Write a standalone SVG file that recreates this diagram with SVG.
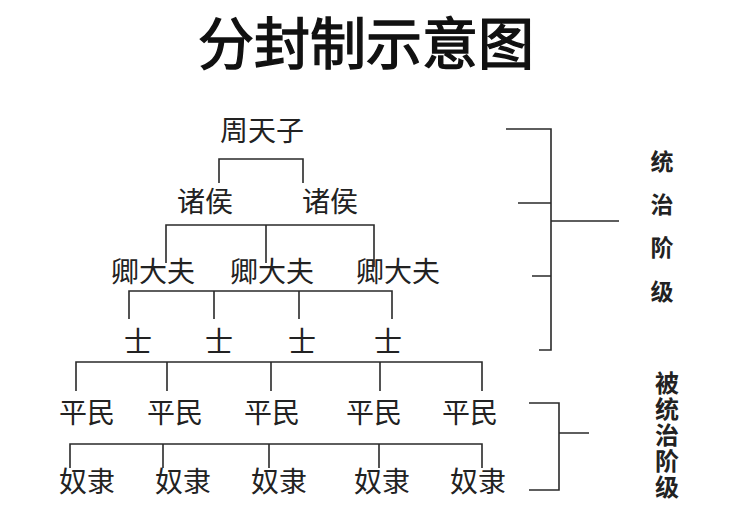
<svg xmlns="http://www.w3.org/2000/svg" width="751" height="518" viewBox="0 0 751 518">
<style>
.t{font-family:"Noto Sans CJK SC","Noto Sans",sans-serif;font-size:28px;fill:#222;text-anchor:middle}
.title{font-family:"Noto Sans CJK SC","Noto Sans",sans-serif;font-size:56px;font-weight:normal;fill:#111;stroke:#111;stroke-width:1.4;text-anchor:middle}
.side{font-family:"Noto Sans CJK SC","Noto Sans",sans-serif;font-size:23px;font-weight:bold;fill:#222;text-anchor:middle}
.side2{font-family:"Noto Sans CJK SC","Noto Sans",sans-serif;font-size:24px;font-weight:bold;fill:#222;writing-mode:vertical-rl;letter-spacing:2px}
.c{fill:none;stroke:#2a2a2a;stroke-width:1.6}
</style>
<rect width="751" height="518" fill="#fff"/>
<text class="title" x="366" y="64">分封制示意图</text>
<g id="connectors" class="c">
<path d="M219,183 V159 H303 V183"/>
<path d="M166,263 V225 H374 V267 M266,225 V263"/>
<path d="M129,319 V291 H392 V319 M214,291 V319 M299,291 V319"/>
<path d="M76,391 V362 H482 V391 M167,362 V391 M271,362 V391 M380,362 V391"/>
<path d="M70,468 V444 H482 V468 M163,444 V468 M269,444 V468 M379,444 V468"/>
<path d="M506,129 H551 V350 H539 M518,203 H551 M532,276 H551 M551,221 H619"/>
<path d="M529,403 H559 V490 H529 M559,433 H589"/>
</g>
<g id="n-zhoutianzi"><text class="t" x="262" y="141">周天子</text></g>
<g id="n-zhuhou1"><text class="t" x="205" y="212">诸侯</text></g>
<g id="n-zhuhou2"><text class="t" x="330" y="212">诸侯</text></g>
<g id="n-qing1"><text class="t" x="153" y="282">卿大夫</text></g>
<g id="n-qing2"><text class="t" x="272" y="282">卿大夫</text></g>
<g id="n-qing3"><text class="t" x="398" y="282">卿大夫</text></g>
<g id="n-shi1"><text class="t" x="138" y="352">士</text></g>
<g id="n-shi2"><text class="t" x="219" y="352">士</text></g>
<g id="n-shi3"><text class="t" x="302" y="352">士</text></g>
<g id="n-shi4"><text class="t" x="388" y="352">士</text></g>
<g id="n-pm1"><text class="t" x="87" y="423">平民</text></g>
<g id="n-pm2"><text class="t" x="175" y="423">平民</text></g>
<g id="n-pm3"><text class="t" x="272" y="423">平民</text></g>
<g id="n-pm4"><text class="t" x="374" y="423">平民</text></g>
<g id="n-pm5"><text class="t" x="470" y="423">平民</text></g>
<g id="n-nl1"><text class="t" x="87" y="492">奴隶</text></g>
<g id="n-nl2"><text class="t" x="183" y="492">奴隶</text></g>
<g id="n-nl3"><text class="t" x="279" y="492">奴隶</text></g>
<g id="n-nl4"><text class="t" x="382" y="492">奴隶</text></g>
<g id="n-nl5"><text class="t" x="478" y="492">奴隶</text></g>
<g id="n-ruling">
<text class="side" x="662" y="170">统</text>
<text class="side" x="662" y="213">治</text>
<text class="side" x="662" y="256">阶</text>
<text class="side" x="662" y="300">级</text>
</g>
<g id="n-ruled">
<text class="side2" x="667" y="371">被统治阶级</text>
</g>
</svg>
